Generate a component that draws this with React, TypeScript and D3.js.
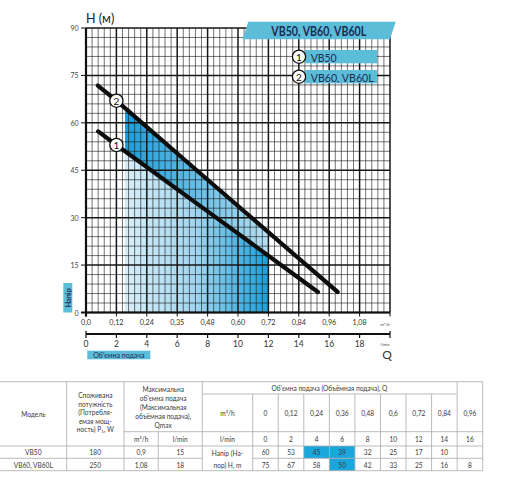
import React from "react";
import * as d3 from "d3";

// ---- data ----
const lpmTicks = [0, 2, 4, 6, 8, 10, 12, 14, 16, 18];
const m3hTickLabels = ["0,0", "0,12", "0,24", "0,35", "0,48", "0,60", "0,72", "0,84", "0,96", "1,08"];
const headTicks = [0, 15, 30, 45, 60, 75, 90];

// curves (Q in l/min, H in m)
const curve1Q = [0.8, 2, 8, 15.26];
const curve1H = [57.3, 53, 32, 6.5];
const curve2Q = [0.78, 2, 8, 16.55];
const curve2H = [71.8, 67, 42, 6.5];

// shaded working zone (l/min)
const zoneStart = 2.57;
const zoneEnd = 12;

// table data
const tableModels = ["VB50", "VB60, VB60L"];
const tablePower = ["180", "250"];
const tableQmaxM3h = ["0,9", "1,08"];
const tableQmaxLmin = ["15", "18"];
const tableQm3h = ["0", "0,12", "0,24", "0,36", "0,48", "0,6", "0,72", "0,84", "0,96"];
const tableQlmin = ["0", "2", "4", "6", "8", "10", "12", "14", "16"];
const tableVB50 = ["60", "53", "45", "39", "32", "25", "17", "10", ""];
const tableVB60 = ["75", "67", "58", "50", "42", "33", "25", "16", "8"];
const highlighted = [
  [0, 2],
  [0, 3],
  [1, 3],
];

const FONT = "Lato, 'Open Sans', 'Noto Sans', sans-serif";
const BLUE = "#5cbdd8";
const NAVY = "#1b2b55";

export default function App() {
  const x = d3.scaleLinear().domain([0, 20]).range([86, 390]);
  const y = d3.scaleLinear().domain([0, 90]).range([312.5, 28]);

  const minorX = d3.range(0, 51).map((i) => i * 0.4);
  const minorY = d3.range(0, 31).map((i) => i * 3);

  const pts1 = curve1Q.map((q, i) => [q, curve1H[i]] as [number, number]);
  const pts2 = curve2Q.map((q, i) => [q, curve2H[i]] as [number, number]);
  const line = d3
    .line<[number, number]>()
    .x((d) => x(d[0]))
    .y((d) => y(d[1]));
  const area = d3
    .area<[number, number]>()
    .x((d) => x(d[0]))
    .y0(y(0))
    .y1((d) => y(d[1]));

  // table geometry
  const vx0 = 252.7;
  const vw = (482.7 - vx0) / 9;
  const colX = (i: number) => vx0 + i * vw;
  const tTop = 381.7,
    tY1 = 394,
    tY2 = 431.7,
    tY3 = 446,
    tY4 = 458.3,
    tY5 = 470.7;
  const lc = "#a9a9a9";
  const tf = 6.6;
  const tc = "#3a3a3a";

  const T = (props: any) => (
    <text
      fontFamily={FONT}
      fontSize={tf}
      fill={tc}
      textAnchor="middle"
      dominantBaseline="central"
      {...props}
    />
  );

  return (
    <svg
      width={512}
      height={482}
      style={{ position: "absolute", left: 0, top: 0, background: "#fff" }}
    >
      <defs>
        <linearGradient id="band" gradientUnits="userSpaceOnUse" x1={x(zoneStart)} x2={x(zoneEnd)} y1={0} y2={0}>
          <stop offset="0" stopColor="#1b9cd8" />
          <stop offset="0.5" stopColor="#66bee6" />
          <stop offset="1" stopColor="#b8dff2" />
        </linearGradient>
        <linearGradient id="lower" gradientUnits="userSpaceOnUse" x1={x(zoneStart)} x2={x(zoneEnd)} y1={0} y2={0}>
          <stop offset="0" stopColor="#d8eef9" />
          <stop offset="0.5" stopColor="#a0d5ef" />
          <stop offset="1" stopColor="#19a0da" />
        </linearGradient>
        <clipPath id="zone">
          <rect x={x(zoneStart)} y={0} width={x(zoneEnd) - x(zoneStart)} height={y(0)} />
        </clipPath>
      </defs>

      {/* shaded zone */}
      <g clipPath="url(#zone)">
        <path d={area(pts2) || ""} fill="url(#band)" />
        <path d={area(pts1) || ""} fill="url(#lower)" />
      </g>

      {/* grid */}
      <g>
        {minorX.map((q, i) => (
          <line
            key={"vx" + i}
            x1={x(q)}
            x2={x(q)}
            y1={y(90)}
            y2={y(0)}
            stroke="#161616"
            strokeWidth={i % 5 === 0 ? 1.5 : 0.6}
          />
        ))}
        {minorY.map((h, i) => (
          <line
            key={"hy" + i}
            x1={x(0)}
            x2={x(20)}
            y1={y(h)}
            y2={y(h)}
            stroke="#161616"
            strokeWidth={i % 5 === 0 ? 1.5 : 0.6}
          />
        ))}
        <line x1={x(0)} x2={x(0)} y1={y(90)} y2={y(0) + 4} stroke="#111" strokeWidth={2.2} />
        <line x1={x(0) - 5} x2={x(20)} y1={y(0)} y2={y(0)} stroke="#111" strokeWidth={2.2} />
      </g>

      {/* y axis ticks & labels */}
      {headTicks.map((h) => (
        <g key={"yt" + h}>
          <line x1={x(0) - 5} x2={x(0)} y1={y(h)} y2={y(h)} stroke="#111" strokeWidth={1} />
          <text
            x={78.5}
            y={y(h)}
            fontFamily={FONT}
            fontSize={7}
            fill="#444"
            textAnchor="end"
            dominantBaseline="central"
          >
            {h}
          </text>
        </g>
      ))}
      <text x={86} y={23} fontFamily={FONT} fontSize={12.5} fill="#222">
        H (м)
      </text>

      {/* top x axis (m3/h) */}
      {lpmTicks.concat([20]).map((q) => (
        <line key={"xt" + q} x1={x(q)} x2={x(q)} y1={y(0)} y2={y(0) + 4} stroke="#111" strokeWidth={1} />
      ))}
      {m3hTickLabels.map((l, i) => (
        <text
          key={"xl" + i}
          x={x(lpmTicks[i])}
          y={322.3}
          fontFamily={FONT}
          fontSize={7.2}
          fill="#333"
          textAnchor="middle"
          dominantBaseline="central"
        >
          {l}
        </text>
      ))}
      <text x={385} y={324} fontFamily={FONT} fontSize={4.5} fill="#444" textAnchor="middle" dominantBaseline="central">
        m³/h
      </text>

      {/* bottom x axis (l/min) */}
      <line x1={x(0)} x2={x(20)} y1={334} y2={334} stroke="#111" strokeWidth={2} />
      {lpmTicks.concat([20]).map((q) => (
        <line
          key={"bt" + q}
          x1={x(q)}
          x2={x(q)}
          y1={q === 0 || q === 20 ? 331 : 333}
          y2={338}
          stroke="#111"
          strokeWidth={1.2}
        />
      ))}
      {lpmTicks.map((q) => (
        <text
          key={"bl" + q}
          x={x(q)}
          y={343.5}
          fontFamily={FONT}
          fontSize={8.5}
          fill="#333"
          textAnchor="middle"
          dominantBaseline="central"
        >
          {q}
        </text>
      ))}
      <text x={385} y={344} fontFamily={FONT} fontSize={4} fill="#444" textAnchor="middle" dominantBaseline="central">
        l/min
      </text>
      <text x={387} y={354.5} fontFamily={FONT} fontSize={12} fill="#333" textAnchor="middle" dominantBaseline="central">
        Q
      </text>

      {/* axis name boxes */}
      <rect x={63.3} y={283} width={9} height={29.5} fill={BLUE} />
      <text
        transform={`translate(68.2,297.8) rotate(-90)`}
        fontFamily={FONT}
        fontSize={7.2}
        fontWeight={700}
        fill={NAVY}
        textAnchor="middle"
        dominantBaseline="central"
      >
        Напір
      </text>
      <rect x={87.3} y={350.7} width={63} height={8.6} fill={BLUE} />
      <text x={118.8} y={355.2} fontFamily={FONT} fontSize={7} fill={NAVY} textAnchor="middle" dominantBaseline="central">
        Об'ємна подача
      </text>

      {/* curves */}
      <path d={line(pts1) || ""} fill="none" stroke="#0d0d0d" strokeWidth={4.2} strokeLinecap="round" />
      <path d={line(pts2) || ""} fill="none" stroke="#0d0d0d" strokeWidth={4.2} strokeLinecap="round" />
      {[pts1[1], pts2[1]].map((p, i) => (
        <g key={"m" + i}>
          <circle cx={x(p[0])} cy={y(p[1])} r={6.6} fill="#fff" stroke="#111" strokeWidth={1.3} />
          <text
            x={x(p[0])}
            y={y(p[1]) + 0.5}
            fontFamily={FONT}
            fontSize={10}
            fill="#111"
            textAnchor="middle"
            dominantBaseline="central"
          >
            {i + 1}
          </text>
        </g>
      ))}

      {/* title banner */}
      <polygon points="248.3,21.7 395.7,21.7 390,39.3 242.7,39.3" fill={BLUE} />
      <text
        x={318.8}
        y={31}
        fontFamily={FONT}
        fontSize={12.5}
        fontWeight={700}
        fill={NAVY}
        textAnchor="middle"
        dominantBaseline="central"
        textLength={95}
        lengthAdjust="spacingAndGlyphs"
      >
        VB50, VB60, VB60L
      </text>

      {/* legend */}
      {["VB50", "VB60, VB60L"].map((lab, i) => (
        <g key={"lg" + i}>
          <rect x={305} y={50 + i * 20} width={72} height={13.3} fill={BLUE} />
          <circle cx={299} cy={56.7 + i * 20} r={6.6} fill="#fff" stroke="#111" strokeWidth={1.3} />
          <text
            x={299}
            y={57.2 + i * 20}
            fontFamily={FONT}
            fontSize={10}
            fill="#111"
            textAnchor="middle"
            dominantBaseline="central"
          >
            {i + 1}
          </text>
          <text
            x={310.7}
            y={57 + i * 20}
            fontFamily={FONT}
            fontSize={11}
            fill={NAVY}
            dominantBaseline="central"
            textLength={i === 0 ? 26 : 63}
            lengthAdjust="spacingAndGlyphs"
          >
            {lab}
          </text>
        </g>
      ))}

      {/* table highlights */}
      {highlighted.map(([r, c]) => (
        <rect
          key={"hl" + r + c}
          x={colX(c)}
          y={r === 0 ? tY3 : tY4}
          width={vw}
          height={r === 0 ? tY4 - tY3 : tY5 - tY4}
          fill="#1aa7de"
        />
      ))}

      {/* table lines */}
      <g stroke={lc} strokeWidth={0.8}>
        <line x1={0} x2={482.7} y1={tTop} y2={tTop} />
        <line x1={202.3} x2={456.7} y1={tY1} y2={tY1} />
        <line x1={124} x2={482.7} y1={tY2} y2={tY2} />
        <line x1={0} x2={482.7} y1={tY3} y2={tY3} />
        <line x1={0} x2={202.3} y1={tY4} y2={tY4} />
        <line x1={252.7} x2={482.7} y1={tY4} y2={tY4} />
        <line x1={0} x2={482.7} y1={tY5} y2={tY5} />
        {[66.7, 124, 202.3, 482.7].map((xx) => (
          <line key={"tv" + xx} x1={xx} x2={xx} y1={tTop} y2={tY5} />
        ))}
        <line x1={158.3} x2={158.3} y1={tY2} y2={tY5} />
        {d3.range(0, 9).map((i) => (
          <line key={"tc" + i} x1={colX(i)} x2={colX(i)} y1={i === 8 ? tTop : tY1} y2={tY5} />
        ))}
      </g>

      {/* table header text */}
      <T x={33.3} y={413.8}>Модель</T>
      {["Споживана", "потужність", "(Потребля-", "емая мощ-"].map((s, i) => (
        <T key={"p" + i} x={95.3} y={395 + i * 8.5}>
          {s}
        </T>
      ))}
      <T x={95.3} y={429}>
        <tspan>ность) P</tspan>
        <tspan fontSize={4.5} dy={1.5}>
          1
        </tspan>
        <tspan dy={-1.5}>, W</tspan>
      </T>
      {["Максимальна", "об'ємна подача", "(Максимальная", "объёмная подача),", "Qmax"].map((s, i) => (
        <T key={"mx" + i} x={163.2} y={388.5 + i * 9.1}>
          {s}
        </T>
      ))}
      <T x={141.2} y={439.3}>m³/h</T>
      <T x={180.3} y={439.3}>l/min</T>
      <T x={227.5} y={413}>m³/h</T>
      <T x={227.5} y={439.3}>l/min</T>
      <T x={227.5} y={452.5}>Напір (На-</T>
      <T x={227.5} y={464.5}>пор) H, m</T>
      <T x={329.5} y={388}>Об'ємна подача (Объёмная подача), Q</T>
      {tableQm3h.map((s, i) => (
        <T key={"q3" + i} x={colX(i) + vw / 2} y={413}>
          {s}
        </T>
      ))}
      {tableQlmin.map((s, i) => (
        <T key={"ql" + i} x={colX(i) + vw / 2} y={439.3}>
          {s}
        </T>
      ))}
      {tableModels.map((s, r) => (
        <g key={"row" + r}>
          <T x={33.3} y={r === 0 ? 452.3 : 464.6}>{s}</T>
          <T x={95.3} y={r === 0 ? 452.3 : 464.6}>{tablePower[r]}</T>
          <T x={141.2} y={r === 0 ? 452.3 : 464.6}>{tableQmaxM3h[r]}</T>
          <T x={180.3} y={r === 0 ? 452.3 : 464.6}>{tableQmaxLmin[r]}</T>
        </g>
      ))}
      {tableVB50.map((s, i) => (
        <T key={"v50" + i} x={colX(i) + vw / 2} y={452.3}>
          {s}
        </T>
      ))}
      {tableVB60.map((s, i) => (
        <T key={"v60" + i} x={colX(i) + vw / 2} y={464.6}>
          {s}
        </T>
      ))}
    </svg>
  );
}
